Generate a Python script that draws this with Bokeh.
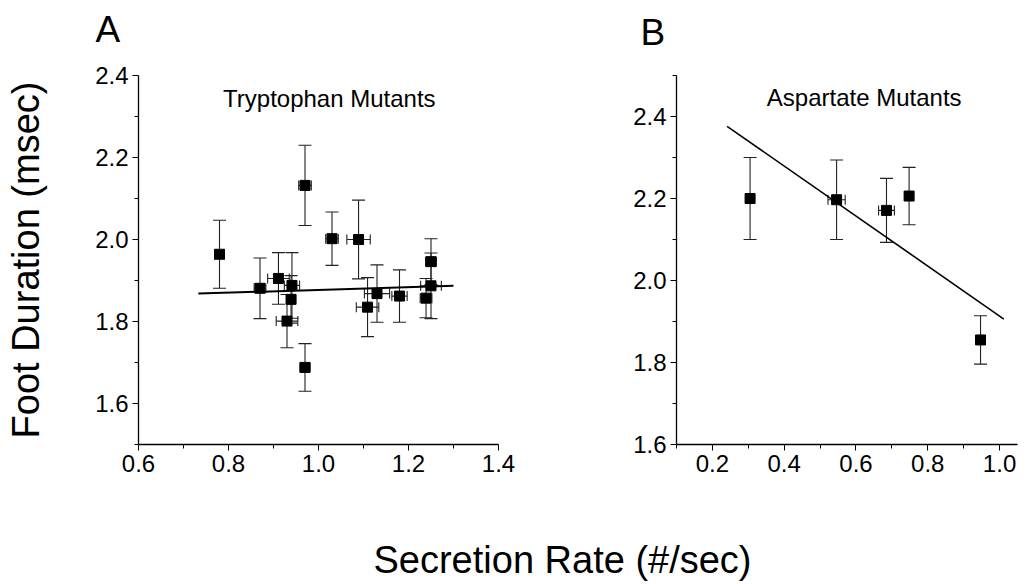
from bokeh.plotting import figure
from bokeh.models import (Range1d, FixedTicker, PrintfTickFormatter, Whisker, TeeHead,
                          ColumnDataSource, Label)
from bokeh.layouts import column, row
from bokeh.embed import file_html
from bokeh.resources import INLINE

# ---------------- data ----------------
trp_rate = [0.780, 0.870, 0.911, 0.941, 0.939, 0.930, 0.970, 1.030, 0.970, 1.089, 1.109, 1.130, 1.180, 1.239, 1.250, 1.250]
trp_foot = [1.964, 1.881, 1.905, 1.888, 1.854, 1.801, 2.132, 2.002, 1.688, 2.000, 1.835, 1.868, 1.862, 1.857, 1.946, 1.887]
trp_foot_err = [0.083, 0.074, 0.063, 0.080, 0.058, 0.065, 0.098, 0.065, 0.058, 0.096, 0.072, 0.070, 0.064, 0.048, 0.056, 0.080]
trp_rate_err = [0.011, 0.013, 0.024, 0.017, 0.010, 0.024, 0.014, 0.014, 0.011, 0.026, 0.025, 0.028, 0.017, 0.013, 0.012, 0.023]
trp_fit_x = [0.733, 1.300]
trp_fit_y = [1.868, 1.887]

asp_rate = [0.305, 0.546, 0.685, 0.748, 0.947]
asp_foot = [2.200, 2.197, 2.171, 2.206, 1.855]
asp_foot_err = [0.100, 0.097, 0.078, 0.070, 0.059]
asp_rate_err = [0.010, 0.024, 0.022, 0.012, 0.010]
asp_fit_x = [0.241, 1.012]
asp_fit_y = [2.376, 1.906]

trp_xticks = [0.6, 0.8, 1.0, 1.2, 1.4]
trp_xminor = [0.7, 0.9, 1.1, 1.3]
trp_yticks = [1.6, 1.8, 2.0, 2.2, 2.4]
trp_yminor = [1.5, 1.7, 1.9, 2.1, 2.3]
asp_xticks = [0.2, 0.4, 0.6, 0.8, 1.0]
asp_xminor = [0.1, 0.3, 0.5, 0.7, 0.9]
asp_yticks = [1.6, 1.8, 2.0, 2.2, 2.4]
asp_yminor = [1.7, 1.9, 2.1, 2.3, 2.5]

FONT = "Liberation Sans"


def style_axes(p, xt, xm, yt, ym):
    p.xaxis.ticker = FixedTicker(ticks=xt, minor_ticks=xm)
    p.yaxis.ticker = FixedTicker(ticks=yt, minor_ticks=ym)
    for ax in (p.xaxis, p.yaxis):
        ax.formatter = PrintfTickFormatter(format="%.1f")
        ax.major_label_text_font = FONT
        ax.major_label_text_font_size = "24px"
        ax.major_label_text_color = "black"
        ax.axis_line_color = "black"
        ax.axis_line_width = 1.3
        ax.major_tick_line_color = "black"
        ax.minor_tick_line_color = "black"
        ax.major_tick_in = 0
        ax.major_tick_out = 6
        ax.minor_tick_in = 0
        ax.minor_tick_out = 4
        ax.major_label_standoff = 4
    p.grid.visible = False
    p.outline_line_color = None
    p.background_fill_color = "white"
    p.border_fill_color = "white"


def add_data(p, xs, ys, yerr, xerr, fx, fy, lw):
    src = ColumnDataSource(dict(
        x=xs, y=ys,
        ylo=[a - b for a, b in zip(ys, yerr)], yhi=[a + b for a, b in zip(ys, yerr)],
        xlo=[a - b for a, b in zip(xs, xerr)], xhi=[a + b for a, b in zip(xs, xerr)],
    ))
    vw = Whisker(base="x", lower="ylo", upper="yhi", dimension="height", source=src,
                 line_color="#222222", line_width=1.1,
                 upper_head=TeeHead(size=13, line_color="#222222", line_width=1.1),
                 lower_head=TeeHead(size=13, line_color="#222222", line_width=1.1))
    hw = Whisker(base="y", lower="xlo", upper="xhi", dimension="width", source=src,
                 line_color="#222222", line_width=1.1,
                 upper_head=TeeHead(size=10, line_color="#222222", line_width=1.1),
                 lower_head=TeeHead(size=10, line_color="#222222", line_width=1.1))
    p.add_layout(vw)
    p.add_layout(hw)
    p.line(fx, fy, line_color="black", line_width=lw)
    p.scatter("x", "y", source=src, marker="square", size=10,
              fill_color="black", line_color="black")


def strip(w, h):
    s = figure(width=w, height=h, x_range=Range1d(0, w), y_range=Range1d(0, h),
               output_backend="svg", toolbar_location=None, tools="",
               x_axis_location=None, y_axis_location=None, min_border=0)
    s.grid.visible = False
    s.outline_line_color = None
    return s


# ---------------- top strip: panel letters ----------------
TOP = 58
ptop = strip(1028, TOP)
ptop.add_layout(Label(x=95, y=29, text="A", text_align="left",
                      text_baseline="alphabetic", text_font=FONT, text_font_size="37px",
                      text_color="black"))
ptop.add_layout(Label(x=640, y=26, text="B", text_align="left",
                      text_baseline="alphabetic", text_font=FONT, text_font_size="37px",
                      text_color="black"))

# ---------------- panel A ----------------
pa = figure(width=560, height=500 - TOP, x_range=Range1d(0.6, 1.4), y_range=Range1d(1.5, 2.4),
            output_backend="svg", toolbar_location=None, tools="",
            min_border_left=138, min_border_right=62, min_border_top=74 - TOP, min_border_bottom=56)
style_axes(pa, trp_xticks, trp_xminor, trp_yticks, trp_yminor)
add_data(pa, trp_rate, trp_foot, trp_foot_err, trp_rate_err, trp_fit_x, trp_fit_y, 2)
pa.add_layout(Label(x=1.024, y=2.345, text="Tryptophan Mutants", text_align="center",
                    text_baseline="alphabetic", text_font=FONT, text_font_size="24px",
                    text_color="black"))
pa.yaxis.axis_label = "Foot Duration (msec)"
pa.yaxis.axis_label_text_font = FONT
pa.yaxis.axis_label_text_font_size = "38px"
pa.yaxis.axis_label_text_font_style = "normal"
pa.yaxis.axis_label_text_color = "black"
pa.yaxis.axis_label_standoff = 45

# ---------------- panel B ----------------
pb = figure(width=468, height=500 - TOP, x_range=Range1d(0.1, 1.05), y_range=Range1d(1.6, 2.5),
            output_backend="svg", toolbar_location=None, tools="",
            min_border_left=116, min_border_right=11, min_border_top=75 - TOP, min_border_bottom=56)
style_axes(pb, asp_xticks, asp_xminor, asp_yticks, asp_yminor)
add_data(pb, asp_rate, asp_foot, asp_foot_err, asp_rate_err, asp_fit_x, asp_fit_y, 1.6)
pb.add_layout(Label(x=0.623, y=2.446, text="Aspartate Mutants", text_align="center",
                    text_baseline="alphabetic", text_font=FONT, text_font_size="24px",
                    text_color="black"))

# ---------------- shared x title ----------------
pt = strip(1028, 84)
pt.add_layout(Label(x=562, y=25, text="Secretion Rate (#/sec)", text_align="center",
                    text_baseline="alphabetic", text_font=FONT, text_font_size="38px",
                    text_color="black"))

layout = column(ptop, row(pa, pb), pt)
open("out.html", "w").write(file_html(layout, INLINE))
